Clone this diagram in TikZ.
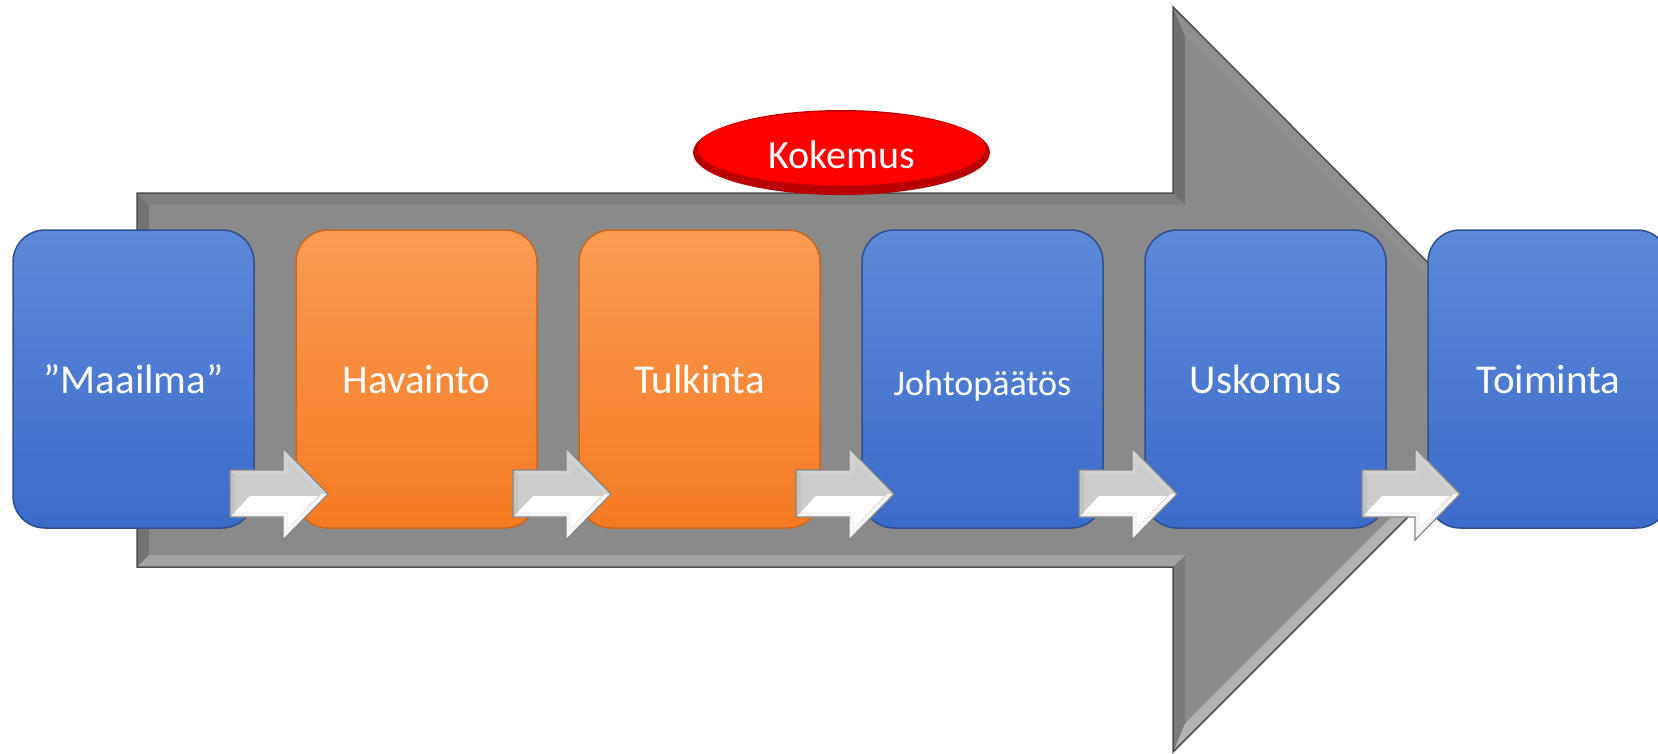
\documentclass[tikz,border=0pt]{standalone}
\usepackage{fontspec}
\setmainfont{Carlito}
\usetikzlibrary{calc,shapes.geometric}
\definecolor{bluetop}{HTML}{5C89D9}
\definecolor{bluebot}{HTML}{3C6CCA}
\definecolor{blueedge}{HTML}{2F4F8F}
\definecolor{orangetop}{HTML}{FA9B55}
\definecolor{orangebot}{HTML}{F47A22}
\definecolor{orangeedge}{HTML}{C8661E}
\definecolor{kokred}{HTML}{FF0000}
\definecolor{kokdark}{HTML}{B80000}
\definecolor{greyfill}{HTML}{8A8A8A}
\definecolor{greyedge}{HTML}{4D4D4D}
\begin{document}
\begin{tikzpicture}[x=1pt,y=-1pt,
  box/.style={rectangle, rounded corners=32pt, minimum width=241pt, minimum height=298pt,
    inner sep=0pt, text=white, font=\fontsize{41}{41}\selectfont,
    text height=28pt, text depth=0pt, line width=1.5pt},
  bluebox/.style={box, draw=blueedge, top color=bluetop, bottom color=bluebot},
  orangebox/.style={box, draw=orangeedge, top color=orangetop, bottom color=orangebot},
  face/.style={line width=0pt},
]
\useasboundingbox (0,0) rectangle (1658,753);
\clip (0,0) rectangle (1658,753);

% big grey arrow
\fill[greyfill] (137,193) -- (1173,193) -- (1173,7) -- (1545,380) -- (1173,752) -- (1173,567) -- (137,567) -- cycle;
\fill[face,fill=black!55] (137,567) -- (137,193) -- (149,205) -- (149,555) -- cycle;
\fill[face,fill=black!50] (137,193) -- (1173,193) -- (1185,205) -- (149,205) -- cycle;
\fill[face,fill=black!56] (1173,193) -- (1173,7) -- (1185,36) -- (1185,205) -- cycle;
\fill[face,fill=black!44] (1173,7) -- (1545,380) -- (1528.5,379.5) -- (1185,36) -- cycle;
\fill[face,fill=black!30] (1545,380) -- (1173,752) -- (1185,723) -- (1528.5,379.5) -- cycle;
\fill[face,fill=black!52] (1173,752) -- (1173,567) -- (1185,555) -- (1185,723) -- cycle;
\fill[face,fill=black!36] (1173,567) -- (137,567) -- (149,555) -- (1185,555) -- cycle;
\fill[greyfill] (149,205) -- (1185,205) -- (1185,36) -- (1528.5,379.5) -- (1185,723) -- (1185,555) -- (149,555) -- cycle;
\draw[greyedge, line width=1.5pt, line join=miter] (137,193) -- (1173,193) -- (1173,7) -- (1545,380) -- (1173,752) -- (1173,567) -- (137,567) -- cycle;

% Kokemus ellipse
\node[ellipse, fill=kokdark, minimum width=297pt, minimum height=85pt, inner sep=0pt] (kok) at (841.5,152.5) {};
\fill[kokred] ($(kok.center)+(0,-4)$) ellipse [x radius=144pt, y radius=37pt];
\node[anchor=base, text=white, font=\fontsize{40}{40}\selectfont, inner sep=0pt] (kokt) at ($(kok.center)+(0,15.5)$) {Kokemus};

% boxes
\node[bluebox]   (b1) at (133.5,379)  {”Maailma”};
\node[orangebox] (b2) at (416.5,379)  {Havainto};
\node[orangebox] (b3) at (699.5,379)  {Tulkinta};
\node[bluebox, font=\fontsize{36}{36}\selectfont, text height=33pt] (b4) at (982.5,379) {Johtopäätös};
\node[bluebox]   (b5) at (1265.5,379) {Uskomus};
\node[bluebox]   (b6) at (1548.5,379) {Toiminta};

% small block arrows between boxes
\foreach \i/\j in {1/2,2/3,3/4,4/5,5/6}{
  \coordinate (g\i) at ($(b\i.east)!0.5!(b\j.west)$);
  \begin{scope}[shift={($(g\i)+(-45,115)$)}]
    \fill[black!18] (0,-24) -- (53,-24) -- (53,-46) -- (98,0) -- (53,46) -- (53,23) -- (0,23) -- cycle;
    \fill[white!96!black] (0,23) -- (5,18) -- (58,18) -- (58,34) -- (91,0) -- (98,0) -- (53,46) -- (53,23) -- cycle;
    \fill[black!24] (0,-24) -- (0,23) -- (5,18) -- (5,-19) -- cycle;
    \fill[black!20] (5,-19) -- (58,-19) -- (58,-34) -- (91,0) -- (58,34) -- (58,18) -- (5,18) -- cycle;
    \fill[white] (5,18) -- (20,2) -- (88,2) -- (58,34) -- (58,18) -- cycle;
    \draw[black!48, line width=1.2pt, line join=miter] (0,-24) -- (53,-24) -- (53,-46) -- (98,0) -- (53,46) -- (53,23) -- (0,23) -- cycle;
  \end{scope}
}
\end{tikzpicture}
\end{document}
